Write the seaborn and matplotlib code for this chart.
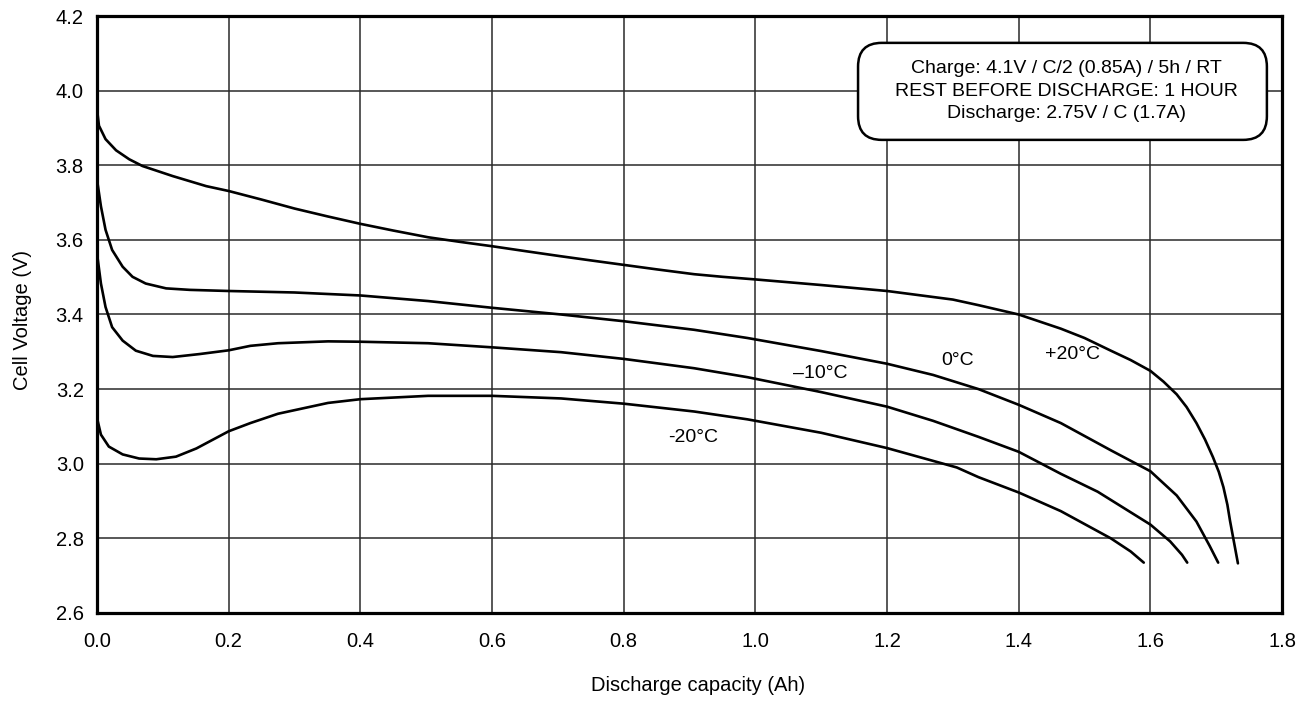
import numpy as np
import pandas as pd
import matplotlib
matplotlib.use("Agg")
import matplotlib.pyplot as plt
from matplotlib.patches import FancyBboxPatch
import seaborn as sns

# ==========================================
# Data
# ==========================================
cap_p20 = [0.0, 0.003, 0.013, 0.029, 0.049, 0.069, 0.115, 0.166, 0.2, 0.25, 0.3, 0.35, 0.4, 0.45,
           0.503, 0.55, 0.6, 0.65, 0.705, 0.75, 0.8, 0.85, 0.907, 0.95, 1.0, 1.1, 1.2, 1.3, 1.339,
           1.4, 1.464, 1.5, 1.54, 1.57, 1.6, 1.62, 1.64, 1.655, 1.67, 1.683, 1.695, 1.704, 1.711,
           1.717, 1.721, 1.727, 1.733]
volt_p20 = [3.951, 3.906, 3.87, 3.84, 3.816, 3.798, 3.771, 3.744, 3.731, 3.708, 3.684, 3.663, 3.643, 3.625,
            3.607, 3.595, 3.583, 3.57, 3.556, 3.545, 3.533, 3.521, 3.508, 3.501, 3.494, 3.479, 3.463, 3.44, 3.425,
            3.40, 3.362, 3.337, 3.303, 3.278, 3.249, 3.22, 3.186, 3.152, 3.109, 3.065, 3.018, 2.978, 2.937,
            2.89, 2.847, 2.79, 2.733]

cap_0 = [0.0, 0.006, 0.013, 0.023, 0.039, 0.054, 0.074, 0.105, 0.141, 0.2, 0.3, 0.4, 0.503, 0.6,
         0.705, 0.8, 0.907, 0.988, 1.1, 1.2, 1.27, 1.339, 1.4, 1.464, 1.54, 1.6, 1.64, 1.67, 1.69, 1.703]
volt_0 = [3.762, 3.69, 3.627, 3.573, 3.528, 3.501, 3.483, 3.470, 3.466, 3.463, 3.459, 3.451, 3.436, 3.418,
          3.40, 3.382, 3.359, 3.337, 3.302, 3.268, 3.238, 3.2, 3.158, 3.109, 3.036, 2.98, 2.915, 2.845, 2.78, 2.735]

cap_m10 = [0.0, 0.006, 0.013, 0.023, 0.039, 0.059, 0.085, 0.115, 0.156, 0.2, 0.233, 0.275, 0.351, 0.4,
           0.503, 0.6, 0.705, 0.8, 0.907, 0.988, 1.1, 1.2, 1.27, 1.339, 1.4, 1.464, 1.52, 1.57, 1.6,
           1.63, 1.648, 1.656]
volt_m10 = [3.564, 3.483, 3.42, 3.366, 3.33, 3.303, 3.289, 3.286, 3.294, 3.304, 3.316, 3.323, 3.328, 3.327,
            3.323, 3.312, 3.299, 3.281, 3.256, 3.232, 3.192, 3.153, 3.115, 3.072, 3.032, 2.973, 2.925, 2.87, 2.837,
            2.792, 2.756, 2.735]

cap_m20 = [0.0, 0.0, 0.006, 0.018, 0.039, 0.064, 0.09, 0.12, 0.151, 0.2, 0.233, 0.275, 0.351, 0.4,
           0.503, 0.6, 0.705, 0.8, 0.907, 0.988, 1.1, 1.2, 1.306, 1.339, 1.4, 1.464, 1.54, 1.57, 1.59]
volt_m20 = [3.159, 3.123, 3.078, 3.046, 3.025, 3.014, 3.012, 3.019, 3.041, 3.087, 3.109, 3.134, 3.163, 3.173,
            3.182, 3.182, 3.175, 3.161, 3.14, 3.119, 3.083, 3.042, 2.99, 2.964, 2.923, 2.873, 2.80, 2.765, 2.735]

curve_names = ["+20°C", "0°C", "–10°C", "-20°C"]
label_x = [1.481, 1.307, 1.099, 0.906]
label_y = [3.294, 3.278, 3.243, 3.069]

box_lines = ["Charge: 4.1V / C/2 (0.85A) / 5h / RT",
             "REST BEFORE DISCHARGE: 1 HOUR",
             "Discharge: 2.75V / C (1.7A)"]

x_ticks = [0.0, 0.2, 0.4, 0.6, 0.8, 1.0, 1.2, 1.4, 1.6, 1.8]
y_ticks = [2.6, 2.8, 3.0, 3.2, 3.4, 3.6, 3.8, 4.0, 4.2]

frames = []
for name, caps, volts in zip(curve_names,
                             [cap_p20, cap_0, cap_m10, cap_m20],
                             [volt_p20, volt_0, volt_m10, volt_m20]):
    frames.append(pd.DataFrame({"cap": caps, "volt": volts, "temp": name}))
df = pd.concat(frames, ignore_index=True)

# ==========================================
# Plot
# ==========================================
sns.set_style("white")
plt.rcParams['font.family'] = ['Liberation Sans', 'DejaVu Sans']
plt.rcParams['text.color'] = 'black'
plt.rcParams['axes.labelcolor'] = 'black'

fig = plt.figure(figsize=(13.07, 7.02), dpi=100)
ax = fig.add_axes([0.0742, 0.1268, 0.9067, 0.8504])

for name in curve_names:
    sub = df[df["temp"] == name]
    sns.lineplot(data=sub, x="cap", y="volt", sort=False, estimator=None,
                 color="black", linewidth=1.9, ax=ax, zorder=3)

ax.set_xlim(0, 1.8)
ax.set_ylim(2.6, 4.2)
ax.set_xticks(x_ticks)
ax.set_yticks(y_ticks)
ax.set_xticklabels([f"{v:.1f}" for v in x_ticks])
ax.set_yticklabels([f"{v:.1f}" for v in y_ticks])
ax.tick_params(axis="both", length=0, labelsize=14.5, colors="black")
ax.tick_params(axis="x", pad=14)
ax.tick_params(axis="y", pad=9.5)
ax.grid(True, color="#2a2a2a", linewidth=1.1)
ax.set_axisbelow(True)
for sp in ax.spines.values():
    sp.set_visible(True)
    sp.set_color("black")
    sp.set_linewidth(2.3)

ax.set_xlabel("Discharge capacity (Ah)", fontsize=14.5)
ax.set_ylabel("Cell Voltage (V)", fontsize=14.5)
ax.xaxis.set_label_coords(0.507, -0.105)
ax.yaxis.set_label_coords(-0.055, 0.49)

for name, lx, ly in zip(curve_names, label_x, label_y):
    ax.text(lx, ly, name, fontsize=14, ha="center", va="center", zorder=4)

# rounded info box
asp = (1.6 / 597) / (1.8 / 1185)
box = FancyBboxPatch((1.156, 3.868), 0.621, 0.26,
                     boxstyle="round,pad=0,rounding_size=0.036",
                     mutation_aspect=asp, facecolor="white", edgecolor="black",
                     linewidth=1.8, zorder=5)
ax.add_patch(box)
ax.text(1.472, 3.998, "\n".join(box_lines), fontsize=14, ha="center", va="center",
        linespacing=1.42, zorder=6)

fig.savefig("out.png", dpi=100)
